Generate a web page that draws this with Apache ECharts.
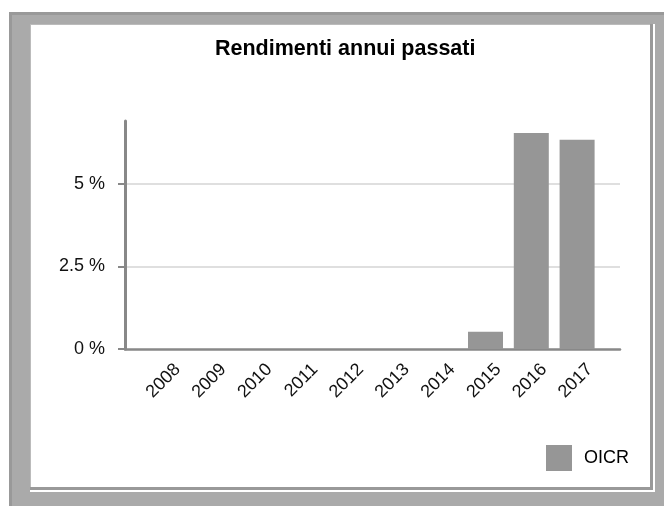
<!DOCTYPE html>
<html>
<head>
<meta charset="utf-8">
<script src="https://cdn.jsdelivr.net/npm/echarts@6/dist/echarts.min.js"></script>
<style>
html,body{margin:0;padding:0;background:#fff;}
#chart{width:664px;height:506px;}
</style>
</head>
<body>
<div id="chart"></div>
<script>
const titleText = 'Rendimenti annui passati';
const seriesName = 'OICR';
const categories = ['2008','2009','2010','2011','2012','2013','2014','2015','2016','2017'];
const values = [0, 0, 0, 0, 0, 0, 0, 0.52, 6.54, 6.33];
const yTickValues = [0, 2.5, 5];
const yMax = 6.9;

const FONT = '"Liberation Sans", Arial, sans-serif';
const chart = echarts.init(document.getElementById('chart'), null, {renderer:'canvas'});

const option = {
  animation: false,
  backgroundColor: '#ffffff',
  textStyle: {fontFamily: FONT},
  graphic: [
    {type:'rect', z:-10, silent:true, shape:{x:9, y:12, width:655, height:494}, style:{fill:'#999999'}},
    {type:'rect', z:-10, silent:true, shape:{x:12, y:15, width:652, height:491}, style:{fill:'#aaaaaa'}},
    {type:'rect', z:-10, silent:true, shape:{x:30, y:24, width:625, height:468}, style:{fill:'#ffffff'}},
    {type:'rect', z:-10, silent:true, shape:{x:30, y:24, width:623, height:466}, style:{fill:'#999999'}},
    {type:'rect', z:-10, silent:true, shape:{x:30, y:24, width:620, height:463}, style:{fill:'#bbbbbb'}},
    {type:'rect', z:-10, silent:true, shape:{x:31, y:25, width:619, height:462}, style:{fill:'#ffffff'}}
  ],
  title: {
    text: titleText,
    left: 215,
    top: 38,
    padding: 0,
    textStyle: {fontFamily: FONT, fontSize: 21.5, fontWeight: 'bold', color: '#000'}
  },
  legend: {
    data: [seriesName],
    left: 546,
    top: 445,
    padding: 0,
    icon: 'rect',
    itemWidth: 26,
    itemHeight: 26,
    textStyle: {fontFamily: FONT, fontSize: 18, color: '#000', padding: [0,0,0,7]}
  },
  grid: [
    {left: 125, right: 44, top: 121, bottom: 157},
    {left: 142, right: 64, top: 121, bottom: 157}
  ],
  xAxis: [
    {
      gridIndex: 0, type: 'value', min: 0, max: 1,
      axisLine: {show: true, onZero: false, lineStyle: {color: '#888888', width: 2.5}},
      axisTick: {show: false}, axisLabel: {show: false}, splitLine: {show: false}
    },
    {
      gridIndex: 1, type: 'category', data: categories,
      axisLine: {show: false}, axisTick: {show: false}, splitLine: {show: false},
      axisLabel: {
        rotate: 45, margin: 5, fontSize: 18, color: '#111', fontFamily: FONT,
        verticalAlign: 'top', padding: [9, 0, 0, 0], interval: 0
      }
    }
  ],
  yAxis: [
    {
      gridIndex: 0, type: 'value', min: 0, max: yMax, interval: 2.5,
      axisLine: {show: true, lineStyle: {color: '#888888', width: 3}},
      axisTick: {show: true, length: 7, customValues: yTickValues, lineStyle: {color: '#888888', width: 2}},
      axisLabel: {customValues: yTickValues, margin: 20, fontSize: 18, color: '#111', fontFamily: FONT,
        formatter: function (v) { return v + ' %'; }},
      splitLine: {show: true, showMinLine: false, lineStyle: {color: '#d4d4d4', width: 1.5}}
    },
    {gridIndex: 1, type: 'value', min: 0, max: yMax, show: false}
  ],
  series: [
    {
      name: seriesName,
      type: 'bar',
      xAxisIndex: 1,
      yAxisIndex: 1,
      data: values,
      barWidth: 35,
      itemStyle: {color: '#969696'}
    }
  ]
};
chart.setOption(option);
</script>
</body>
</html>
